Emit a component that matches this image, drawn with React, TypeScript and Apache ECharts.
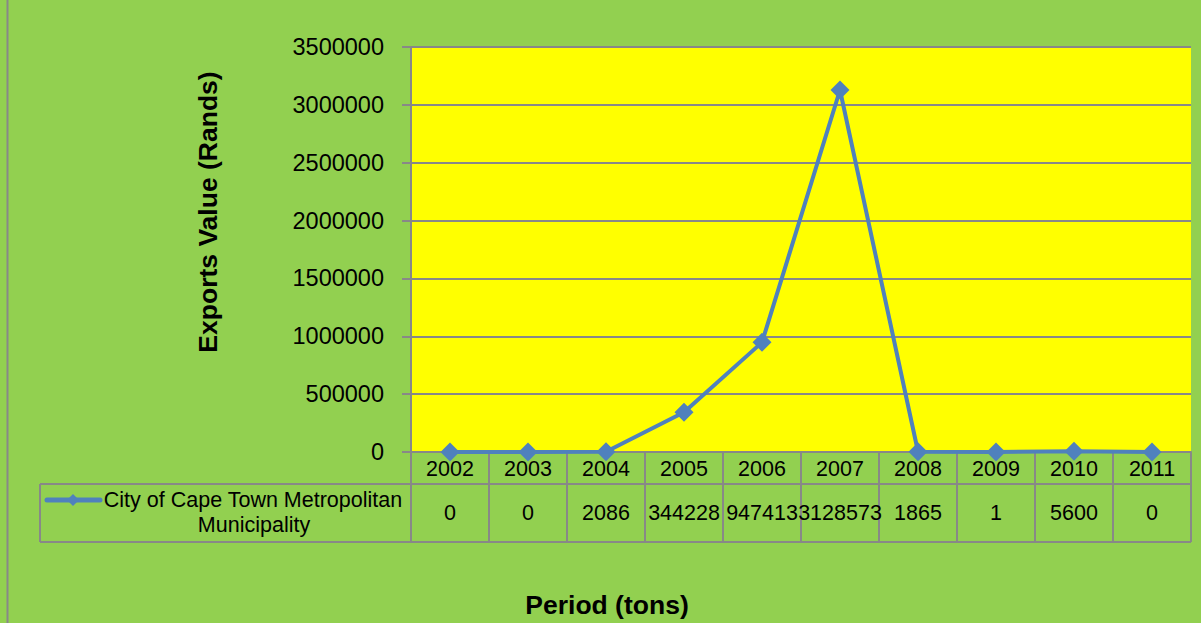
import React, { useEffect, useRef } from "react";
import * as echarts from "echarts";

const years = ["2002", "2003", "2004", "2005", "2006", "2007", "2008", "2009", "2010", "2011"];
const values = [0, 0, 2086, 344228, 947413, 3128573, 1865, 1, 5600, 0];
const seriesName = "City of Cape Town Metropolitan Municipality";
const legendLines = ["City of Cape Town Metropolitan", "Municipality"];
const yTitle = "Exports Value (Rands)";
const xTitle = "Period (tons)";

const GRID_L = 411;
const GRID_T = 47;
const GRID_W = 780;
const GRID_H = 405;
const GRAY = "#888888";
const BLUE = "#4F81BD";
const TFONT = 21.5;

export default function App() {
  const ref = useRef<HTMLDivElement>(null);
  useEffect(() => {
    if (!ref.current) return;
    const chart = echarts.init(ref.current, null, { renderer: "svg" });
    const bottom = GRID_T + GRID_H;
    const row1 = bottom + 32;
    const row2 = bottom + 90;
    const legX = 40;
    chart.setOption({
      animation: false,
      backgroundColor: "#92D050",
      textStyle: { fontFamily: "Liberation Sans, Arial, sans-serif" },
      grid: {
        left: GRID_L,
        top: GRID_T,
        width: GRID_W,
        height: GRID_H,
        show: true,
        backgroundColor: "#FFFF00",
        borderWidth: 0,
      },
      xAxis: [
        {
          type: "category",
          data: years,
          boundaryGap: true,
          position: "bottom",
          axisLine: { show: true, lineStyle: { color: GRAY, width: 2 } },
          axisTick: { show: true, interval: 0, length: 90, lineStyle: { color: GRAY, width: 2 } },
          axisLabel: { interval: 0, margin: 6, color: "#000", fontSize: TFONT, fontFamily: "Liberation Sans" },
          splitLine: { show: false },
        },
        {
          type: "category",
          data: values.map((v) => String(v)),
          boundaryGap: true,
          position: "bottom",
          offset: 32,
          axisLine: { show: true, lineStyle: { color: GRAY, width: 2 } },
          axisTick: { show: false },
          axisLabel: { interval: 0, margin: 18, color: "#000", fontSize: TFONT, fontFamily: "Liberation Sans" },
          splitLine: { show: false },
        },
      ],
      yAxis: {
        type: "value",
        min: 0,
        max: 3500000,
        interval: 500000,
        axisLine: { show: true, lineStyle: { color: GRAY, width: 2 } },
        axisTick: { show: true, length: 9, lineStyle: { color: GRAY, width: 2 } },
        axisLabel: {
          margin: 27,
          color: "#000",
          fontSize: 23.5,
          fontFamily: "Liberation Sans",
          formatter: (v: number) => String(v),
        },
        splitLine: { show: true, lineStyle: { color: GRAY, width: 2 } },
      },
      series: [
        {
          name: seriesName,
          type: "line",
          xAxisIndex: 0,
          data: values,
          symbol: "diamond",
          symbolSize: 19,
          lineStyle: { color: BLUE, width: 4 },
          itemStyle: { color: BLUE },
        },
      ],
      graphic: [
        { type: "line", shape: { x1: 7.5, y1: 0, x2: 7.5, y2: 623 }, style: { stroke: GRAY, lineWidth: 2 } },
        { type: "line", shape: { x1: legX, y1: row1, x2: GRID_L, y2: row1 }, style: { stroke: GRAY, lineWidth: 2 } },
        { type: "line", shape: { x1: legX, y1: row2, x2: GRID_L + GRID_W, y2: row2 }, style: { stroke: GRAY, lineWidth: 2 } },
        { type: "line", shape: { x1: legX, y1: row1, x2: legX, y2: row2 }, style: { stroke: GRAY, lineWidth: 2 } },
        { type: "line", shape: { x1: 47, y1: 500, x2: 100, y2: 500 }, style: { stroke: BLUE, lineWidth: 5, lineCap: "round" } },
        { type: "polygon", shape: { points: [[73, 494], [79, 500], [73, 506], [67, 500]] }, style: { fill: BLUE } },
        {
          type: "text",
          x: 253,
          y: 500,
          style: { text: legendLines[0], fontSize: TFONT, fontFamily: "Liberation Sans", fill: "#000", align: "center", verticalAlign: "middle" },
        },
        {
          type: "text",
          x: 254,
          y: 525,
          style: { text: legendLines[1], fontSize: TFONT, fontFamily: "Liberation Sans", fill: "#000", align: "center", verticalAlign: "middle" },
        },
        {
          type: "text",
          x: 208,
          y: 212,
          rotation: Math.PI / 2,
          style: { text: yTitle, fontSize: 26.5, fontWeight: "bold", fontFamily: "Liberation Sans", fill: "#000", align: "center", verticalAlign: "middle" },
        },
        {
          type: "text",
          x: 607,
          y: 605,
          style: { text: xTitle, fontSize: 26.5, fontWeight: "bold", fontFamily: "Liberation Sans", fill: "#000", align: "center", verticalAlign: "middle" },
        },
      ],
    });
    return () => chart.dispose();
  }, []);
  return <div ref={ref} style={{ position: "fixed", left: 0, top: 0, width: 1201, height: 623 }} />;
}
